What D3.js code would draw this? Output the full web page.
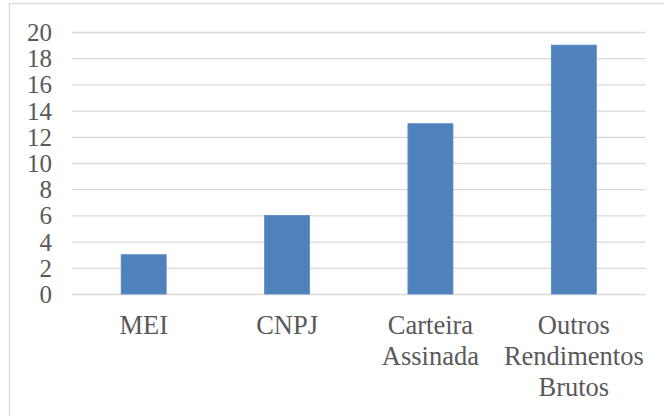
<!DOCTYPE html>
<html><head><meta charset="utf-8">
<script src="https://cdn.jsdelivr.net/npm/d3@7"></script>
<style>body{margin:0;background:#fff}svg{display:block}
svg text{font-family:"Liberation Serif","Times New Roman",serif;}</style>
</head><body>
<script>
const categories = [["MEI"], ["CNPJ"], ["Carteira", "Assinada"], ["Outros", "Rendimentos", "Brutos"]];
const values = [3, 6, 13, 19];
const yTicks = [0, 2, 4, 6, 8, 10, 12, 14, 16, 18, 20];

(function() {
const W = 664, H = 416;
const svg = d3.select("body").append("svg").attr("width", W).attr("height", H);
svg.append("rect").attr("width", W).attr("height", H).attr("fill", "#fff");
svg.append("rect").attr("x", 9.5).attr("y", 3.5).attr("width", W + 20).attr("height", H + 20)
  .attr("fill", "none").attr("stroke", "#d9d9d9").attr("stroke-width", 1.3);

const mLeft = 72, mRight = 645.5, mTop = 32, mBottom = 294;
const keys = categories.map(c => c.join(" "));
const x = d3.scaleBand().domain(keys).range([mLeft, mRight]).paddingInner(0.686).paddingOuter(0.343);
const y = d3.scaleLinear().domain([0, 20]).range([mBottom, mTop]);

const yAxis = svg.append("g").attr("transform", `translate(${mLeft},0)`)
  .call(d3.axisLeft(y).tickValues(yTicks).tickSize(-(mRight - mLeft)).tickPadding(20).tickFormat(d3.format("d")));
yAxis.attr("font-family", null);
yAxis.select(".domain").remove();
yAxis.selectAll(".tick line").attr("stroke", "#d9d9d9").attr("stroke-width", 1.3);
yAxis.selectAll(".tick text").attr("fill", "#595959").style("font-size", "25px").attr("dy", "0.34em");

svg.selectAll("rect.bar").data(values).join("rect").attr("class", "bar")
  .attr("x", (d, i) => x(keys[i])).attr("width", x.bandwidth())
  .attr("y", d => y(d)).attr("height", d => y(0) - y(d))
  .attr("fill", "#4f81bd").attr("stroke", "#5a8ac6").attr("stroke-width", 0.8);

const xAxis = svg.append("g").attr("transform", `translate(0,${mBottom})`)
  .call(d3.axisBottom(x).tickSize(0).tickFormat(""));
xAxis.attr("font-family", null);
xAxis.select(".domain").remove();
xAxis.selectAll(".tick").each(function(d, i) {
  const t = d3.select(this).append("text").attr("fill", "#595959")
    .style("font-size", "26.5px").attr("text-anchor", "middle");
  categories[i].forEach((line, j) => {
    t.append("tspan").attr("x", 0).attr("y", 40 + j * 31).text(line);
  });
});
})();
</script>
</body></html>
